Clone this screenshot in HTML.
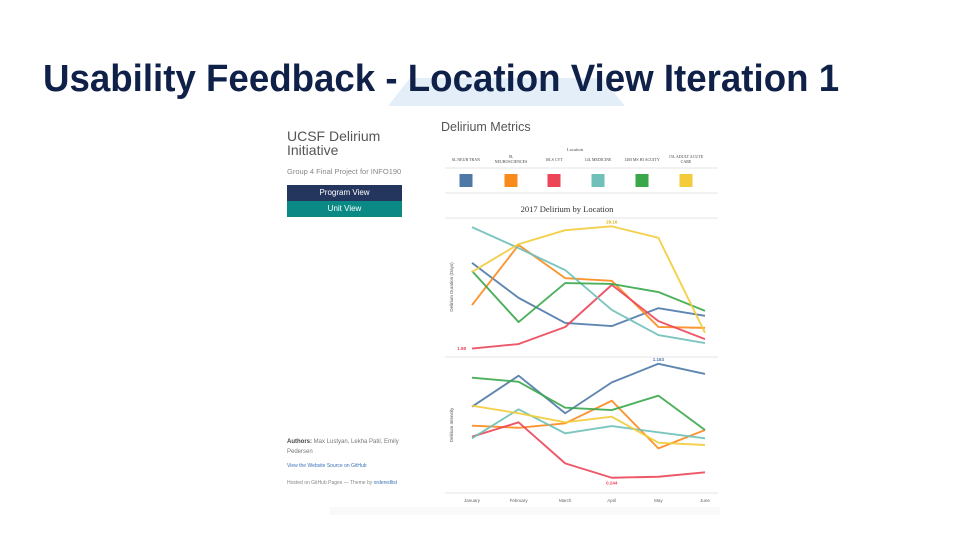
<!DOCTYPE html>
<html><head><meta charset="utf-8"><style>
body{margin:0;width:960px;height:540px;background:#fff;position:relative;overflow:hidden;font-family:"Liberation Sans",sans-serif}
.a{position:absolute}
</style></head><body>
<svg class="a" style="left:0;top:0" width="960" height="540">
<polygon points="410,78 602,78 625,106 388,106" fill="#e3eef8"/>
<rect x="330" y="507" width="390" height="8" fill="#f5f5f5" opacity="0.6"/>
</svg>
<div class="a" style="left:43px;top:58px;font-size:38px;font-weight:bold;color:#0f2148;letter-spacing:0;white-space:nowrap;transform:scaleX(0.965);transform-origin:0 0">Usability Feedback - Location View Iteration 1</div>
<div class="a" style="left:287px;top:129px;font-size:14px;line-height:14px;color:#555;width:120px">UCSF Delirium Initiative</div>
<div class="a" style="left:287px;top:167px;font-size:7.5px;color:#888;white-space:nowrap">Group 4 Final Project for INFO190</div>
<div class="a" style="left:287px;top:185px;width:115px;height:16px;background:#25365e;color:#fff;font-size:8px;line-height:16px;text-align:center">Program View</div>
<div class="a" style="left:287px;top:201px;width:115px;height:16px;background:#0b8a85;color:#fff;font-size:8px;line-height:16px;text-align:center">Unit View</div>
<div class="a" style="left:287px;top:437px;font-size:6px;line-height:10px;color:#777;width:120px"><b style="color:#444">Authors:</b> Max Lustyan, Lekha Patil, Emily Pedersen</div>
<div class="a" style="left:287px;top:463px;font-size:5px;color:#3b73b9;white-space:nowrap">View the Website Source on GitHub</div>
<div class="a" style="left:287px;top:480px;font-size:5px;color:#888;white-space:nowrap">Hosted on GitHub Pages — Theme by <span style="color:#3b73b9">orderedlist</span></div>
<div class="a" style="left:441px;top:120px;font-size:12.5px;color:#555">Delirium Metrics</div>
<svg class="a" id="chart" style="left:0;top:0" width="960" height="540"></svg>
<script>
const months=["January","February","March","April","May","June"];
const locations=["6L NEUR TRAN","8L NEUROSCIENCES","10LS CVT","14L MEDICINE","14M MS HI ACUITY","15L ADULT ACUTE CARE"];
const colors=["#4e79a7","#f98a1c","#ec4558","#6fc0b8","#3aa74a","#f2cc3a"];
const durBlue=[21.0,13.2,7.6,6.9,10.9,9.2];
const durOrange=[11.6,25.0,17.6,17.0,6.7,6.5];
const durRed=[1.88,2.9,6.7,16.1,8.0,4.0];
const durTeal=[29.0,24.3,19.4,10.5,4.9,3.1];
const durGreen=[19.2,7.8,16.5,16.3,14.5,10.3];
const durYellow=[19.0,25.2,28.3,29.16,26.6,5.4];
const intBlue=[0.817,1.067,0.764,1.013,1.163,1.081];
const intOrange=[0.664,0.647,0.683,0.865,0.481,0.629];
const intRed=[0.575,0.691,0.360,0.244,0.252,0.288];
const intTeal=[0.562,0.796,0.602,0.661,0.610,0.562];
const intGreen=[1.051,1.018,0.809,0.790,0.906,0.629];
const intYellow=[0.825,0.764,0.691,0.736,0.527,0.508];
const durSeries=[durBlue,durOrange,durRed,durTeal,durGreen,durYellow];
const intSeries=[intBlue,intOrange,intRed,intTeal,intGreen,intYellow];
const NS="http://www.w3.org/2000/svg",svg=document.getElementById("chart");
function mk(t,a,txt){const e=document.createElementNS(NS,t);for(const k in a)e.setAttribute(k,a[k]);if(txt!==undefined)e.textContent=txt;svg.appendChild(e);return e;}
const x=i=>472+i*46.6;
const yD=v=>357-v*4.48;
const yI=v=>508-v*124;
let e=mk("text",{x:575,y:151,"font-size":4.5,fill:"#444","text-anchor":"middle","font-family":"Liberation Serif"},"Location");

[[445,168],[445,193],[445,218]].forEach(p=>{const l=mk("line",{x1:p[0],x2:718,y1:p[1],y2:p[1],stroke:"#e4e4e4","stroke-width":1});});
const lx=[466,511,554,598,642,686];
locations.forEach((n,i)=>{
 let words=[n];
 if(i==1)words=["8L","NEUROSCIENCES"];
 if(i==5)words=["15L ADULT ACUTE","CARE"];
 words.forEach((w,j)=>{const t=mk("text",{x:lx[i],y:words.length>1?158+j*5:161,"font-size":4,fill:"#444","text-anchor":"middle","font-family":"Liberation Serif"},w);});
 const r=mk("rect",{x:lx[i]-6.5,y:174,width:13,height:13,fill:colors[i]});
 
 
});
e=mk("text",{x:567,y:212,"font-size":8.5,fill:"#333","text-anchor":"middle","font-family":"Liberation Serif"},"2017 Delirium by Location");

[357,493].forEach(yy=>{const l=mk("line",{x1:445,x2:718,y1:yy,y2:yy,stroke:"#e4e4e4","stroke-width":1});});
e=mk("text",{x:0,y:0,"font-size":4.5,fill:"#555","text-anchor":"middle",transform:"translate(453,287) rotate(-90)"},"Delirium Duration (Days)");

e=mk("text",{x:0,y:0,"font-size":4.5,fill:"#555","text-anchor":"middle",transform:"translate(453,425) rotate(-90)"},"Delirium Intensity");

function draw(series,yf,name){series.forEach((s,i)=>{const p=mk("polyline",{points:s.map((v,j)=>x(j)+","+yf(v)).join(" "),fill:"none",stroke:colors[i],"stroke-width":1.9,"stroke-linejoin":"round",opacity:0.9});});}
draw(durSeries,yD,"duration");
draw(intSeries,yI,"intensity");
e=mk("text",{x:x(0)-6,y:yD(durRed[0])+1.5,"font-size":4.5,fill:colors[2],"text-anchor":"end","font-weight":"bold"},durRed[0].toFixed(2));

e=mk("text",{x:x(3),y:yD(durYellow[3])-3,"font-size":4.5,fill:"#d8b520","text-anchor":"middle","font-weight":"bold"},durYellow[3].toFixed(2));

e=mk("text",{x:x(4),y:yI(intBlue[4])-3,"font-size":4.5,fill:colors[0],"text-anchor":"middle","font-weight":"bold"},intBlue[4].toFixed(3));

e=mk("text",{x:x(3),y:yI(intRed[3])+7,"font-size":4.5,fill:colors[2],"text-anchor":"middle","font-weight":"bold"},intRed[3].toFixed(3));

months.forEach((m,i)=>{const t=mk("text",{x:x(i),y:502,"font-size":4.5,fill:"#666","text-anchor":"middle"},m);});
</script>
</body></html>
